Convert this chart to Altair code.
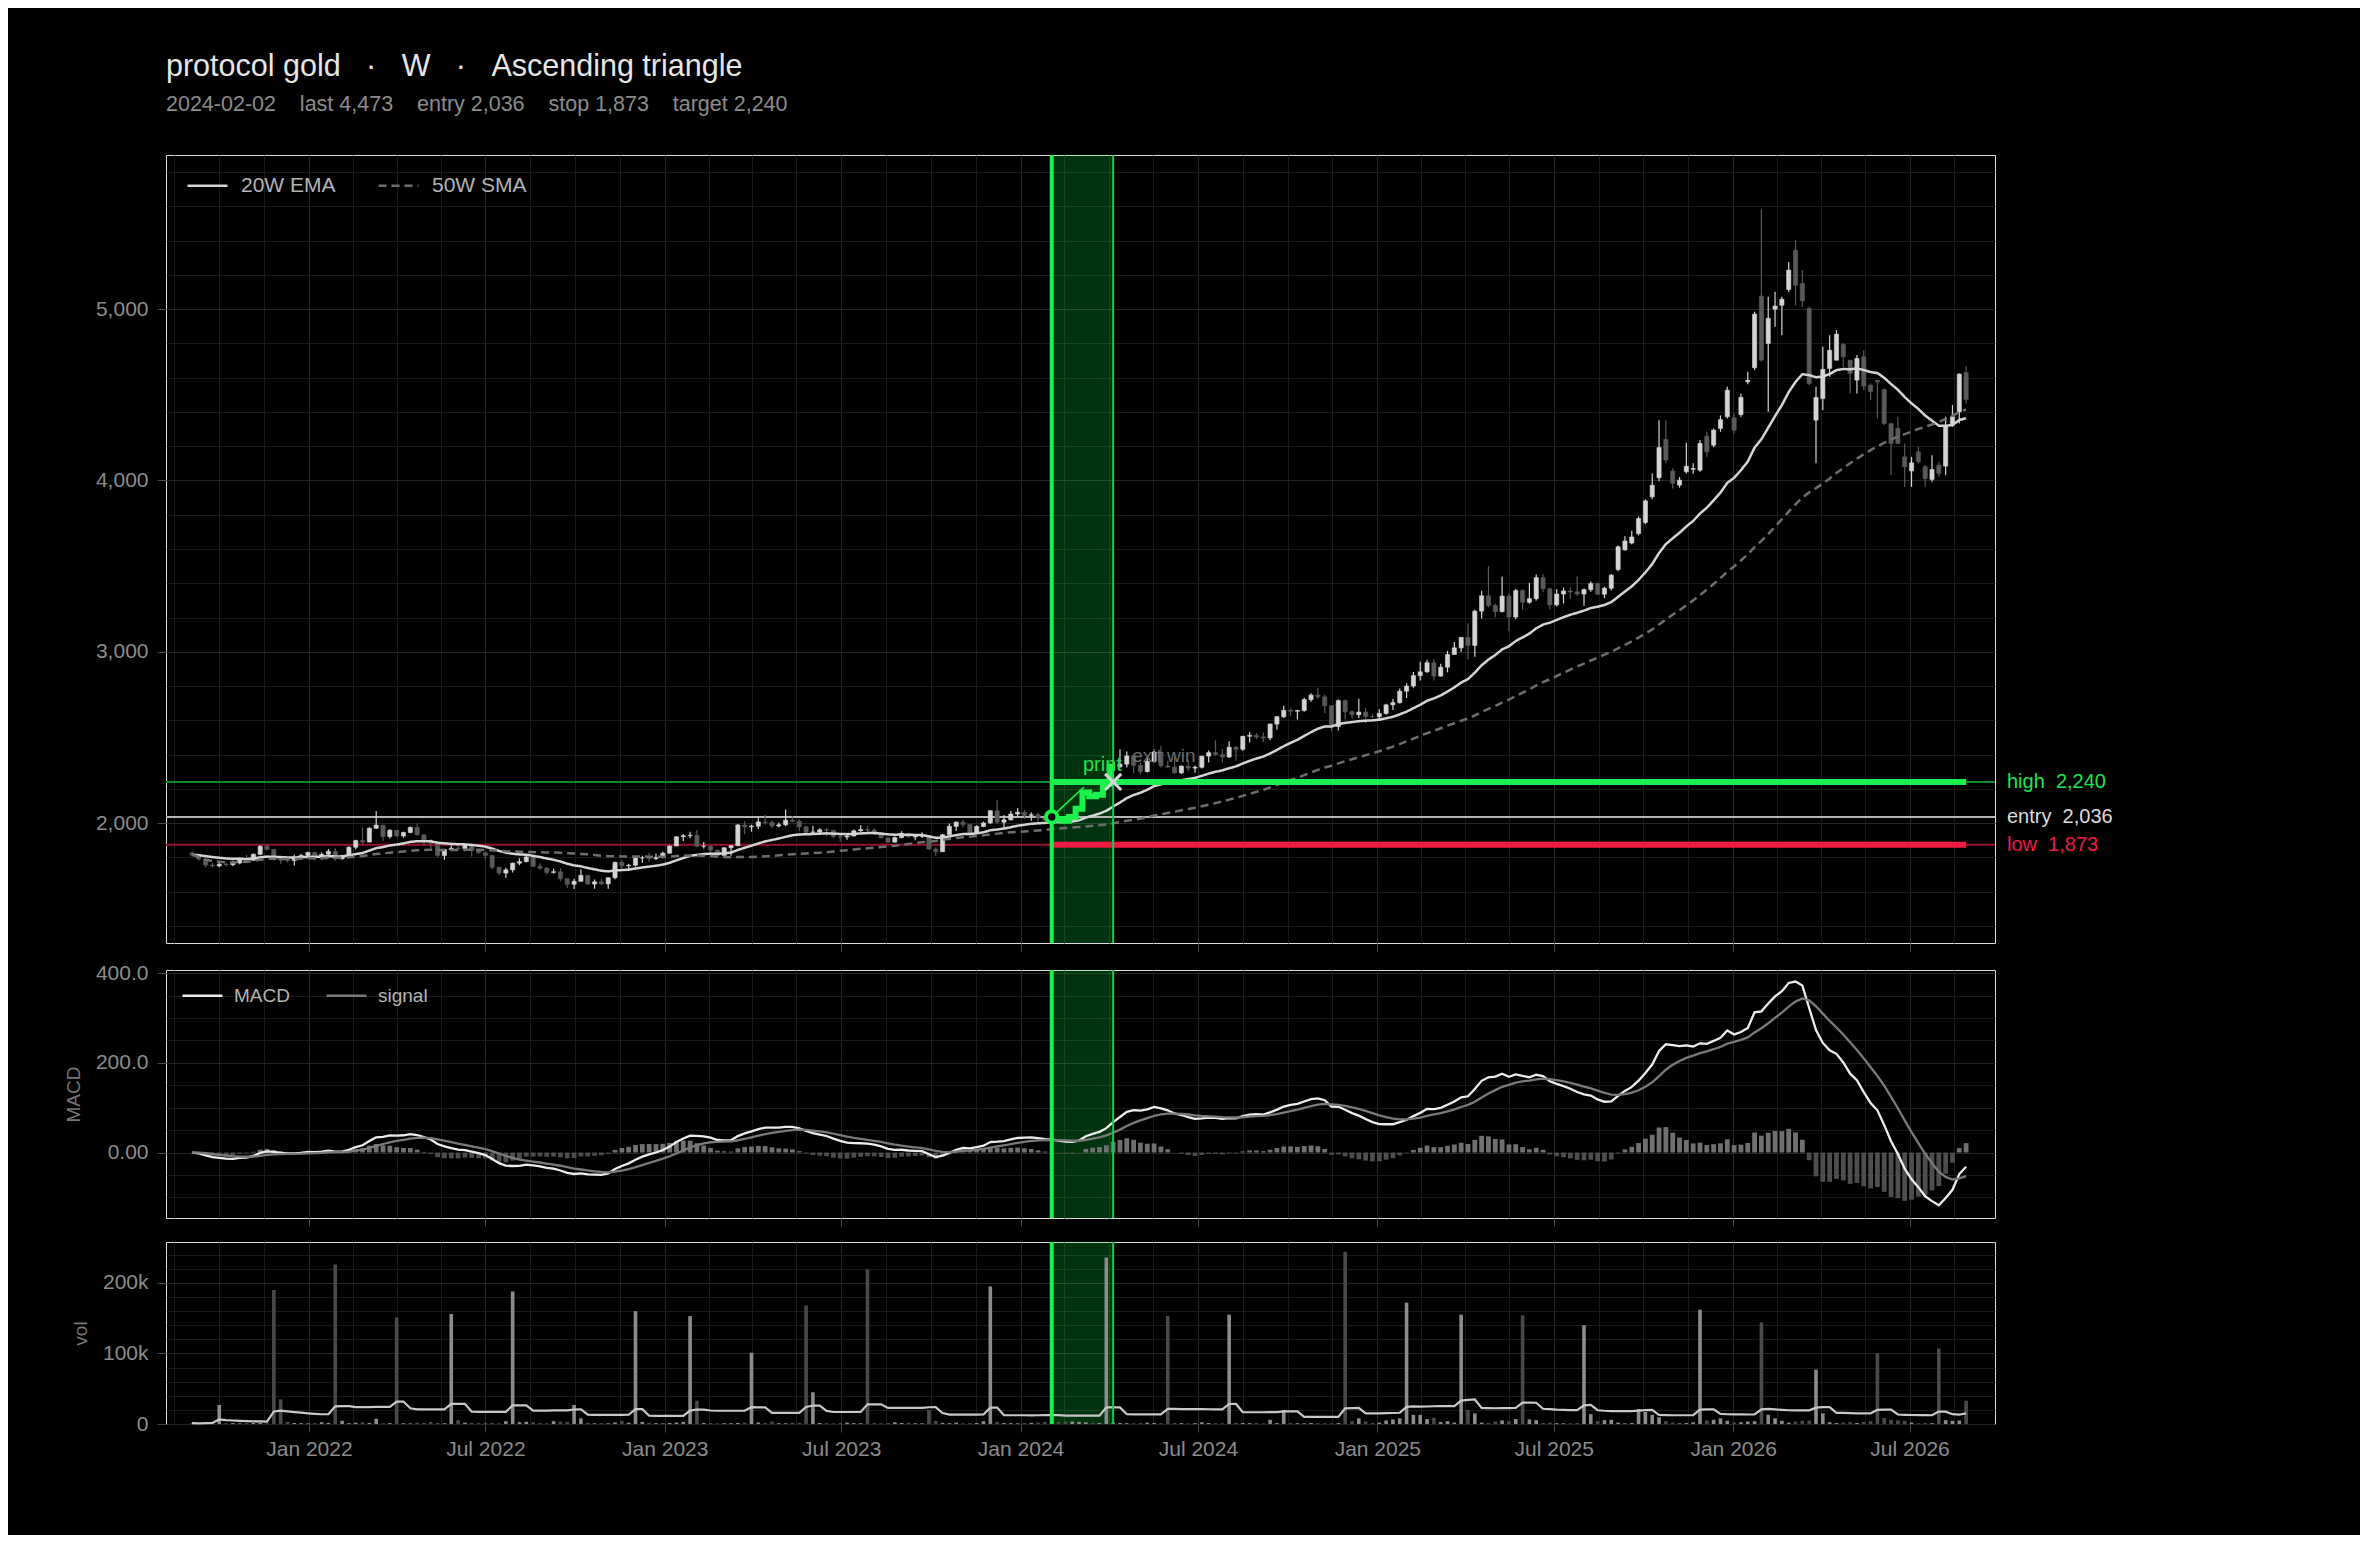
import altair as alt
import numpy as np
import pandas as pd

# ---------------- data ----------------
SYMBOL = "protocol gold"
TIMEFRAME = "W"
PATTERN = "Ascending triangle"
FIRST_WEEK = "2021-09-03"   # weekly candles, one every 7 days

opens = [
    1825, 1815, 1790, 1755, 1750, 1760, 1757, 1767, 1793, 1783,
    1818, 1865, 1846, 1792, 1783, 1782, 1798, 1811, 1829, 1797,
    1818, 1835, 1791, 1808, 1859, 1898, 1889, 1970, 1988, 1921,
    1958, 1925, 1945, 1975, 1931, 1897, 1883, 1811, 1846, 1853,
    1851, 1871, 1839, 1827, 1811, 1742, 1708, 1727, 1766, 1775,
    1802, 1747, 1737, 1712, 1716, 1675, 1643, 1660, 1695, 1644,
    1657, 1645, 1681, 1771, 1751, 1754, 1797, 1797, 1793, 1798,
    1824, 1866, 1920, 1926, 1929, 1865, 1865, 1842, 1811, 1856,
    1868, 1989, 1978, 1982, 2007, 2004, 1983, 1990, 2017, 2011,
    1978, 1946, 1948, 1961, 1958, 1921, 1919, 1925, 1955, 1962,
    1959, 1942, 1914, 1889, 1915, 1940, 1919, 1924, 1925, 1848,
    1833, 1932, 1981, 2006, 1992, 1940, 1980, 2001, 2072, 2005,
    2019, 2053, 2063, 2045, 2049, 2029, 2018, 2036, 2024, 2013,
    2036, 2083, 2179, 2156, 2165, 2230, 2329, 2344, 2392, 2337,
    2301, 2360, 2415, 2334, 2327, 2293, 2333, 2321, 2326, 2391,
    2411, 2400, 2386, 2443, 2431, 2507, 2512, 2503, 2497, 2578,
    2621, 2658, 2653, 2657, 2721, 2747, 2737, 2685, 2563, 2715,
    2650, 2633, 2648, 2622, 2621, 2640, 2690, 2703, 2770, 2800,
    2861, 2883, 2936, 2858, 2910, 2984, 3023, 3084, 3037, 3237,
    3327, 3270, 3235, 3325, 3203, 3357, 3289, 3310, 3433, 3368,
    3274, 3337, 3355, 3350, 3337, 3363, 3398, 3336, 3371, 3480,
    3595, 3635, 3690, 3755, 3905, 4016, 4240, 4055, 3973, 4051,
    4065, 4060, 4259, 4206, 4304, 4372, 4366, 4385, 4576, 4658,
    5076, 4800, 5000, 5023, 5115, 5344, 5150, 5004, 4352, 4479,
    4654, 4702, 4794, 4702, 4586, 4722, 4556, 4585, 4531, 4333,
    4304, 4138, 4056, 4167, 4080, 4006, 4090, 4084, 4323, 4401,
    4630,
]
highs = [
    1834, 1822, 1795, 1768, 1775, 1770, 1782, 1800, 1815, 1823,
    1870, 1877, 1850, 1800, 1795, 1815, 1821, 1832, 1830, 1828,
    1848, 1853, 1815, 1865, 1902, 1974, 1974, 2070, 1990, 1966,
    1960, 1950, 1980, 1998, 1935, 1905, 1886, 1850, 1870, 1874,
    1877, 1880, 1848, 1830, 1813, 1745, 1740, 1770, 1795, 1808,
    1804, 1765, 1743, 1735, 1735, 1680, 1675, 1730, 1695, 1671,
    1675, 1683, 1775, 1786, 1762, 1804, 1810, 1825, 1823, 1833,
    1870, 1922, 1937, 1949, 1959, 1890, 1870, 1848, 1859, 1870,
    1994, 2010, 1990, 2032, 2048, 2015, 2003, 2080, 2040, 2022,
    1985, 1983, 1970, 1972, 1960, 1930, 1935, 1963, 1987, 1983,
    1970, 1948, 1915, 1922, 1953, 1943, 1932, 1947, 1926, 1858,
    1937, 1997, 2009, 2019, 1993, 1988, 2008, 2075, 2135, 2047,
    2070, 2088, 2078, 2063, 2060, 2036, 2065, 2045, 2032, 2041,
    2088, 2195, 2186, 2222, 2236, 2331, 2431, 2418, 2395, 2353,
    2378, 2422, 2450, 2364, 2388, 2336, 2368, 2336, 2392, 2424,
    2483, 2432, 2477, 2450, 2509, 2531, 2525, 2529, 2582, 2625,
    2685, 2670, 2661, 2732, 2758, 2790, 2750, 2688, 2721, 2722,
    2658, 2726, 2672, 2638, 2665, 2697, 2725, 2786, 2817, 2882,
    2942, 2954, 2956, 2930, 3005, 3057, 3086, 3167, 3245, 3357,
    3500, 3280, 3438, 3340, 3366, 3365, 3403, 3451, 3452, 3372,
    3365, 3375, 3377, 3439, 3370, 3410, 3404, 3379, 3454, 3620,
    3675, 3707, 3790, 3890, 4041, 4352, 4352, 4070, 4020, 4220,
    4100, 4236, 4284, 4304, 4380, 4547, 4391, 4508, 4634, 4985,
    5582, 5072, 5101, 5072, 5276, 5403, 5228, 5014, 4547, 4780,
    4848, 4878, 4804, 4702, 4732, 4761, 4566, 4586, 4537, 4333,
    4372, 4216, 4138, 4197, 4090, 4148, 4109, 4372, 4440, 4625,
    4668,
]
lows = [
    1805, 1780, 1742, 1740, 1742, 1746, 1750, 1760, 1770, 1780,
    1812, 1840, 1780, 1762, 1770, 1753, 1790, 1802, 1782, 1788,
    1810, 1780, 1788, 1805, 1846, 1878, 1888, 1965, 1895, 1910,
    1917, 1915, 1940, 1928, 1872, 1850, 1800, 1786, 1840, 1840,
    1836, 1805, 1820, 1784, 1730, 1697, 1680, 1711, 1754, 1770,
    1745, 1727, 1700, 1705, 1660, 1621, 1615, 1660, 1640, 1617,
    1638, 1617, 1672, 1735, 1721, 1746, 1768, 1773, 1785, 1795,
    1824, 1866, 1896, 1911, 1861, 1852, 1819, 1805, 1804, 1810,
    1867, 1935, 1950, 1966, 1992, 1970, 1974, 1982, 2005, 1952,
    1938, 1932, 1940, 1924, 1911, 1893, 1902, 1922, 1950, 1942,
    1930, 1910, 1885, 1885, 1912, 1915, 1900, 1913, 1846, 1810,
    1833, 1930, 1954, 1975, 1931, 1936, 1976, 1995, 1995, 1973,
    2015, 2040, 2024, 2014, 2002, 2010, 2010, 2015, 1984, 2010,
    2025, 2080, 2146, 2146, 2155, 2229, 2320, 2325, 2291, 2286,
    2296, 2353, 2325, 2323, 2287, 2287, 2303, 2294, 2318, 2353,
    2393, 2353, 2380, 2364, 2423, 2470, 2490, 2472, 2484, 2546,
    2614, 2624, 2604, 2650, 2708, 2725, 2643, 2537, 2540, 2605,
    2614, 2613, 2583, 2613, 2596, 2633, 2660, 2698, 2730, 2790,
    2832, 2877, 2832, 2855, 2880, 2982, 3000, 2957, 2971, 3194,
    3260, 3202, 3230, 3120, 3190, 3245, 3281, 3300, 3347, 3247,
    3264, 3282, 3309, 3325, 3268, 3351, 3330, 3313, 3358, 3470,
    3590, 3628, 3680, 3745, 3890, 3995, 4100, 3953, 3958, 4041,
    4040, 4051, 4138, 4196, 4284, 4362, 4274, 4372, 4562, 4644,
    4693, 4401, 4897, 4848, 5100, 5023, 5014, 4556, 4100, 4410,
    4605, 4702, 4664, 4508, 4508, 4527, 4469, 4362, 4323, 4031,
    4216, 3963, 3963, 4099, 3963, 3992, 4022, 4031, 4313, 4333,
    4450,
]
closes = [
    1815, 1790, 1755, 1750, 1760, 1757, 1767, 1793, 1783, 1818,
    1865, 1846, 1792, 1783, 1782, 1798, 1811, 1829, 1797, 1818,
    1835, 1791, 1808, 1859, 1898, 1889, 1970, 1988, 1921, 1958,
    1925, 1945, 1975, 1931, 1897, 1883, 1811, 1846, 1853, 1851,
    1871, 1839, 1827, 1811, 1742, 1708, 1727, 1766, 1775, 1802,
    1747, 1737, 1712, 1716, 1675, 1643, 1660, 1695, 1644, 1657,
    1645, 1681, 1771, 1751, 1754, 1797, 1797, 1793, 1798, 1824,
    1866, 1920, 1926, 1929, 1865, 1865, 1842, 1811, 1856, 1868,
    1989, 1978, 1982, 2007, 2004, 1983, 1990, 2017, 2011, 1978,
    1946, 1948, 1961, 1958, 1921, 1919, 1925, 1955, 1962, 1959,
    1942, 1914, 1889, 1915, 1940, 1919, 1924, 1925, 1848, 1833,
    1932, 1981, 2006, 1992, 1940, 1980, 2001, 2072, 2005, 2019,
    2053, 2063, 2045, 2049, 2029, 2018, 2036, 2024, 2013, 2036,
    2083, 2179, 2156, 2165, 2230, 2329, 2344, 2392, 2337, 2301,
    2360, 2415, 2334, 2327, 2293, 2333, 2321, 2326, 2391, 2411,
    2400, 2386, 2443, 2431, 2507, 2512, 2503, 2497, 2578, 2621,
    2658, 2653, 2657, 2721, 2747, 2737, 2685, 2563, 2715, 2650,
    2633, 2648, 2622, 2621, 2640, 2690, 2703, 2770, 2800, 2861,
    2883, 2936, 2858, 2910, 2984, 3023, 3084, 3037, 3237, 3327,
    3270, 3235, 3325, 3203, 3357, 3289, 3310, 3433, 3368, 3274,
    3337, 3355, 3350, 3337, 3363, 3398, 3336, 3371, 3447, 3613,
    3647, 3670, 3778, 3881, 3972, 4192, 4119, 3983, 4002, 4083,
    4070, 4216, 4167, 4294, 4355, 4527, 4294, 4485, 4585, 4971,
    4703, 4946, 5018, 5058, 5228, 5140, 5049, 4566, 4485, 4648,
    4760, 4854, 4722, 4625, 4712, 4551, 4518, 4575, 4333, 4216,
    4216, 4080, 4103, 4109, 4012, 4064, 4041, 4313, 4372, 4621,
    4473,
]
volume_k = [
    1.2, 0.8, 1.5, 2.0, 27, 1.0, 1.3, 0.9, 1.1, 1.4,
    1.8, 1.2, 190, 35, 3.0, 1.5, 1.2, 0.9, 1.1, 2.5,
    1.6, 226, 4.5, 1.2, 1.8, 2.6, 1.5, 7.5, 1.0, 1.3,
    151, 1.1, 0.9, 2.0, 1.5, 2.8, 1.6, 1.2, 156, 5.5,
    2.0, 1.4, 1.2, 1.8, 1.5, 1.0, 4.0, 188, 2.6, 3.0,
    2.5, 1.2, 1.0, 4.0, 3.5, 3.0, 27, 8.0, 1.5, 1.0,
    1.3, 1.0, 2.2, 4.2, 1.8, 160, 3.0, 1.6, 1.2, 0.9,
    1.4, 2.0, 3.0, 153, 33, 1.5, 1.3, 1.0, 1.2, 1.1,
    1.4, 2.0, 101, 2.2, 1.4, 3.5, 1.2, 1.0, 1.8, 1.5,
    168, 45, 1.5, 1.2, 1.0, 1.3, 2.0, 1.2, 1.1, 219,
    1.5, 1.0, 1.2, 2.5, 1.4, 1.8, 1.1, 1.0, 20, 4.5,
    1.6, 1.2, 2.0, 1.0, 1.3, 1.5, 4.0, 195, 3.0, 1.4,
    1.2, 1.0, 1.5, 1.6, 2.0, 3.0, 2.5, 3.0, 3.5, 3.5,
    3.0, 2.5, 1.8, 1.5, 236, 1.6, 1.4, 1.2, 1.0, 1.3,
    2.0, 1.5, 1.2, 153, 1.5, 1.3, 1.0, 1.2, 2.5, 1.4,
    1.1, 1.0, 155, 1.6, 1.4, 1.2, 1.5, 1.0, 6.0, 1.3,
    20, 1.4, 1.2, 1.0, 1.5, 1.2, 1.0, 1.1, 1.3, 244,
    4.0, 8.0, 3.5, 1.5, 2.0, 5.0, 6.5, 8.0, 172, 13,
    13, 7.0, 9.0, 3.0, 4.0, 2.0, 155, 20, 15, 2.0,
    1.5, 3.5, 5.0, 4.0, 7.0, 154, 6.5, 5.5, 1.5, 2.0,
    1.2, 1.0, 1.0, 1.5, 140, 14, 4.0, 5.5, 6.0, 2.0,
    1.0, 1.5, 21, 17, 13, 9.5, 4.0, 2.0, 1.0, 1.5,
    2.5, 162, 5.0, 6.0, 8.0, 4.5, 2.0, 2.5, 3.5, 4.0,
    144, 13, 8.0, 4.5, 2.0, 3.5, 4.5, 5.0, 77, 15,
    2.5, 1.5, 2.0, 2.5, 1.5, 3.0, 4.0, 100, 8.5, 6.0,
    5.0, 4.5, 2.0, 1.0, 1.5, 1.2, 107, 5.5, 4.5, 5.0,
    33,
]

ENTRY_DATE = "2024-02-02"
EXIT_DATE = "2024-04-05"
ENTRY = 2036
STOP = 1873
TARGET = 2240

level_names = ["high", "entry", "low"]
level_values = [TARGET, ENTRY, STOP]

connector_dates = ["2024-02-02", "2024-03-06"]
connector_prices = [2036, 2210]

note_texts = ["print", "exit win"]
note_dates = ["2024-03-25", "2024-05-27"]
note_prices = [2337, 2390]

# ---------------- frames ----------------
n = len(closes)
assert all(len(a) == n for a in (opens, highs, lows, volume_k))
dates = pd.date_range(FIRST_WEEK, periods=n, freq="7D")
df = pd.DataFrame({
    "date": dates.strftime("%Y-%m-%d"),
    "open": opens, "high": highs, "low": lows, "close": closes,
    "volume": np.array(volume_k) * 1000.0,
})
c = df["close"].astype(float)
df["ema20"] = c.ewm(span=20, adjust=False).mean()
df["sma50"] = c.rolling(50, min_periods=1).mean()
macd = c.ewm(span=12, adjust=False).mean() - c.ewm(span=26, adjust=False).mean()
signal = macd.ewm(span=9, adjust=False).mean()
df["macd"] = macd
df["signal"] = signal
df["hist"] = macd - signal
df["vol_ma"] = df["volume"].rolling(20, min_periods=1).mean()
df["dir"] = np.where(df["close"] >= df["open"], "up", "down")

entry_ts, exit_ts = pd.Timestamp(ENTRY_DATE), pd.Timestamp(EXIT_DATE)
in_trade = (dates > entry_ts) & (dates <= exit_ts)
candles = df[~in_trade]
trade = df[(dates >= entry_ts) & (dates <= exit_ts)]

MA_NAMES = ["20W EMA", "50W SMA"]
ma = pd.DataFrame({
    "date": list(df["date"]) * 2,
    "value": list(df["ema20"]) + list(df["sma50"]),
    "series": [MA_NAMES[0]] * n + [MA_NAMES[1]] * n,
})
MACD_NAMES = ["MACD", "signal"]
macd_long = pd.DataFrame({
    "date": list(df["date"]) * 2,
    "value": list(df["macd"]) + list(df["signal"]),
    "series": [MACD_NAMES[0]] * n + [MACD_NAMES[1]] * n,
})

NB = "\u00a0"
levels = pd.DataFrame({"name": level_names, "value": level_values})
levels["label"] = [f"{a}{NB}{NB}{b:,}" for a, b in zip(level_names, level_values)]
levels["start"] = ENTRY_DATE
levels["end"] = df["date"].iloc[-1]

window = pd.DataFrame({"start": [ENTRY_DATE], "end": [EXIT_DATE]})
entry_pt = pd.DataFrame({"date": [ENTRY_DATE], "price": [ENTRY]})
exit_pt = pd.DataFrame({"date": [EXIT_DATE], "price": [TARGET]})
connector = pd.DataFrame({"date": connector_dates, "price": connector_prices})
notes = pd.DataFrame({"text": note_texts, "date": note_dates, "price": note_prices})

# ---------------- styles ----------------
FONT = "Liberation Sans"
GREEN = "#1cf04c"
GREEN_EXIT = "#22c84a"
GREEN_TEXT = "#1fe350"
RED = "#f01a45"
UP = "#d4d4d4"
DOWN = "#5a5a5a"
GRID_MAJOR = "#262626"
GRID_MINOR = "#1a1a1a"
LABEL = "#8c8c8c"
LEVEL_STYLE = {
    "high": {"thin": "#0f8c31", "thick": GREEN, "text": GREEN_TEXT},
    "entry": {"thin": "#b4b4b4", "thick": None, "text": "#dcdcdc"},
    "low": {"thin": "#9a1230", "thick": RED, "text": RED},
}

W = 1829
H_MAIN, H_MACD, H_VOL = 788, 248, 182

XS = alt.Scale(type="utc", domain=[
    alt.DateTime(year=2021, month=8, date=12, hours=12, utc=True),
    alt.DateTime(year=2026, month=9, date=21, hours=12, utc=True),
])
grid_dates = []
for yr in range(2021, 2027):
    for mo, dy in [(1, 1), (2, 15), (4, 1), (5, 16), (7, 1), (8, 16), (10, 1), (11, 16)]:
        d = pd.Timestamp(year=yr, month=mo, day=dy)
        if pd.Timestamp("2021-08-13") <= d <= pd.Timestamp("2026-09-20"):
            grid_dates.append(alt.DateTime(year=yr, month=mo, date=dy, utc=True))

MAJOR_X = "utcmonth(datum.value) % 6 === 0 && utcdate(datum.value) === 1"


def x_axis(show_labels):
    return alt.Axis(
        values=grid_dates, title=None, grid=True, domain=False, labels=show_labels,
        labelExpr=f"({MAJOR_X}) ? utcFormat(datum.value, '%b %Y') : ''",
        labelOverlap=False, labelFlush=False,
        gridColor={"condition": {"test": MAJOR_X, "value": GRID_MAJOR}, "value": GRID_MINOR},
        tickOpacity={"condition": {"test": MAJOR_X, "value": 1}, "value": 0},
        tickSize=8, tickColor="#4a4a4a", labelPadding=6,
        labelFontSize=21, labelColor=LABEL, labelFont=FONT,
    )


def y_axis(values, major_test, label_expr, title=None):
    kw = dict(
        values=values, grid=True, domain=False, labelExpr=label_expr, labelOverlap=False,
        gridColor={"condition": {"test": major_test, "value": GRID_MAJOR}, "value": GRID_MINOR},
        tickOpacity={"condition": {"test": major_test, "value": 1}, "value": 0},
        tickSize=9, tickColor="#4a4a4a", labelPadding=9,
        labelFontSize=21, labelColor=LABEL, labelFont=FONT,
        titleFontSize=19, titleColor="#777777", titleFont=FONT, titleFontWeight="normal",
        titlePadding=12,
    )
    kw["title"] = title
    return alt.Axis(**kw)


XA_TOP = x_axis(False)
XA_BOTTOM = x_axis(True)

YS_MAIN = alt.Scale(domain=[1300, 5900], nice=False, zero=False)
YA_MAIN = y_axis(list(range(1400, 5801, 200)), "datum.value % 1000 === 0",
                 "datum.value % 1000 === 0 ? format(datum.value, ',') : ''")
YS_MACD = alt.Scale(domain=[-146, 407], nice=False, zero=False)
YA_MACD = y_axis(list(range(-100, 401, 50)), "datum.value % 200 === 0",
                 "datum.value === 0 ? '0.00' : (datum.value % 200 === 0 ? format(datum.value, '.1f') : '')",
                 title="MACD")
YS_VOL = alt.Scale(domain=[0, 258000], nice=False)
YA_VOL = y_axis(list(range(0, 240001, 20000)), "datum.value % 100000 === 0",
                "datum.value === 0 ? '0' : (datum.value % 100000 === 0 ? format(datum.value / 1000, 'd') + 'k' : '')",
                title="vol")


def X(field, axis):
    return alt.X(f"{field}:T", scale=XS, axis=axis)


def Ym(field):
    return alt.Y(f"{field}:Q", scale=YS_MAIN, axis=YA_MAIN)


def window_layers(axis):
    shade = alt.Chart(window).mark_rect(color="#00ff44", opacity=0.2).encode(
        x=X("start", axis), x2=alt.X2("end:T"))
    l_entry = alt.Chart(window).mark_rule(color=GREEN, strokeWidth=4).encode(x=X("start", axis))
    l_exit = alt.Chart(window).mark_rule(color=GREEN_EXIT, strokeWidth=2).encode(x=X("end", axis))
    return shade, [l_entry, l_exit]


# ---------------- main panel ----------------
shade_m, vlines_m = window_layers(XA_TOP)
main_layers = [shade_m]

for name in level_names:
    st = LEVEL_STYLE[name]
    main_layers.append(
        alt.Chart(levels).transform_filter(f"datum.name === '{name}'")
        .mark_rule(color=st["thin"], strokeWidth=2).encode(y=Ym("value")))

for test, col in [("datum.close >= datum.open", UP), ("datum.close < datum.open", DOWN)]:
    sub = alt.Chart(candles).transform_filter(test)
    main_layers.append(sub.mark_rule(color=col, strokeWidth=1.2).encode(
        x=X("date", XA_TOP), y=Ym("low"), y2=alt.Y2("high:Q")))
    main_layers.append(sub.mark_bar(width=4.2, color=col, stroke=col, strokeWidth=0.6).encode(
        x=X("date", XA_TOP), y=Ym("open"), y2=alt.Y2("close:Q")))

MA_LEGEND = alt.Legend(
    title=None, orient="none", legendX=20, legendY=9, direction="horizontal", padding=0,
    symbolType="stroke", symbolSize=1600, symbolStrokeWidth=2.5,
    labelFontSize=21, labelColor="#b4b4b4", labelFont=FONT, labelOffset=12, columnPadding=37,
)
main_layers.append(
    alt.Chart(ma).mark_line(strokeWidth=2.5).encode(
        x=X("date", XA_TOP), y=Ym("value"),
        color=alt.Color("series:N", scale=alt.Scale(domain=MA_NAMES, range=["#d4d4d4", "#6e6e6e"]),
                        legend=MA_LEGEND),
        strokeDash=alt.StrokeDash("series:N", scale=alt.Scale(domain=MA_NAMES, range=[[1, 0], [8, 5]]),
                                  legend=MA_LEGEND),
    ))

for name in level_names:
    st = LEVEL_STYLE[name]
    if st["thick"]:
        main_layers.append(
            alt.Chart(levels).transform_filter(f"datum.name === '{name}'")
            .mark_rule(color=st["thick"], strokeWidth=6).encode(
                x=X("start", XA_TOP), x2=alt.X2("end:T"), y=Ym("value")))

main_layers += vlines_m

main_layers.append(alt.Chart(trade).mark_line(interpolate="step", color=GREEN, strokeWidth=6).encode(
    x=X("date", XA_TOP), y=Ym("close")))
main_layers.append(alt.Chart(connector).mark_line(color=GREEN, strokeWidth=1.5).encode(
    x=X("date", XA_TOP), y=Ym("price")))
main_layers.append(alt.Chart(entry_pt).mark_point(
    shape="circle", filled=True, fill="#000000", stroke=GREEN, strokeWidth=4, size=130, opacity=1).encode(
    x=X("date", XA_TOP), y=Ym("price")))
main_layers.append(alt.Chart(exit_pt).mark_point(
    shape="M-1,-1L1,1M-1,1L1,-1", filled=False, color="#d6d6d6", strokeWidth=3, size=260, opacity=1).encode(
    x=X("date", XA_TOP), y=Ym("price")))
main_layers.append(alt.Chart(notes).transform_filter("datum.text === 'print'").mark_text(
    color=GREEN_TEXT, fontSize=20, font=FONT, align="center", baseline="middle").encode(
    x=X("date", XA_TOP), y=Ym("price"), text="text:N"))
main_layers.append(alt.Chart(notes).transform_filter("datum.text === 'exit win'").mark_text(
    color="#6c6c6c", fontSize=19, font=FONT, align="center", baseline="middle").encode(
    x=X("date", XA_TOP), y=Ym("price"), text="text:N"))

for name in level_names:
    st = LEVEL_STYLE[name]
    main_layers.append(
        alt.Chart(levels).transform_filter(f"datum.name === '{name}'")
        .mark_text(color=st["text"], fontSize=20, font=FONT, align="left", baseline="middle")
        .encode(x=alt.value(W + 12), y=Ym("value"), text="label:N"))

main = alt.layer(*main_layers).properties(width=W, height=H_MAIN)

# ---------------- MACD panel ----------------
shade_d, vlines_d = window_layers(XA_TOP)


def Yd(field):
    return alt.Y(f"{field}:Q", scale=YS_MACD, axis=YA_MACD)


MACD_LEGEND = alt.Legend(
    title=None, orient="none", legendX=15, legendY=4, direction="horizontal", padding=0,
    symbolType="stroke", symbolSize=1600, symbolStrokeWidth=2.5,
    labelFontSize=19, labelColor="#b4b4b4", labelFont=FONT, labelOffset=10, columnPadding=31,
)
macd_layers = [shade_d]
for test, col in [("datum.hist >= 0", "#707070"), ("datum.hist < 0", "#4e4e4e")]:
    macd_layers.append(alt.Chart(df).transform_filter(test).mark_bar(width=4.8, color=col).encode(
        x=X("date", XA_TOP), y=Yd("hist"), y2=alt.datum(0)))
macd_layers.append(alt.Chart(macd_long).mark_line(strokeWidth=2.3).encode(
    x=X("date", XA_TOP), y=Yd("value"),
    color=alt.Color("series:N", scale=alt.Scale(domain=MACD_NAMES, range=["#ececec", "#7a7a7a"]),
                    sort=MACD_NAMES, legend=MACD_LEGEND),
    order=alt.Order("series:N", sort="descending"),
))
macd_layers += vlines_d
macd_panel = alt.layer(*macd_layers).properties(width=W, height=H_MACD)

# ---------------- volume panel ----------------
shade_v, vlines_v = window_layers(XA_BOTTOM)


def Yv(field):
    return alt.Y(f"{field}:Q", scale=YS_VOL, axis=YA_VOL)


vol_layers = [shade_v]
for d, col in [("up", "#8c8c8c"), ("down", "#4a4a4a")]:
    vol_layers.append(alt.Chart(df).transform_filter(f"datum.dir === '{d}'").mark_bar(width=3.6, color=col).encode(
        x=X("date", XA_BOTTOM), y=Yv("volume")))
vol_layers.append(alt.Chart(df).mark_line(color="#c8c8c8", strokeWidth=2.2).encode(
    x=X("date", XA_BOTTOM), y=Yv("vol_ma")))
vol_layers += vlines_v
vol_panel = alt.layer(*vol_layers).properties(width=W, height=H_VOL)

# ---------------- assemble ----------------
title_text = f"{SYMBOL}{NB*3}·{NB*3}{TIMEFRAME}{NB*3}·{NB*3}{PATTERN}"
sub_text = (NB * 4).join([
    ENTRY_DATE, f"last {closes[-1]:,}", f"entry {ENTRY:,}", f"stop {STOP:,}", f"target {TARGET:,}"])

lower = alt.vconcat(macd_panel, vol_panel, spacing=24, bounds="flush").resolve_scale(color="independent")
chart = alt.vconcat(main, lower, spacing=27, bounds="flush").resolve_scale(
    color="independent", strokeDash="independent"
).properties(
    title=alt.TitleParams(
        text=title_text, subtitle=sub_text, anchor="start", frame="group",
        font=FONT, fontSize=30.5, fontWeight="normal", color="#e6e6e6",
        subtitleFont=FONT, subtitleFontSize=21.5, subtitleColor="#8c8c8c", subtitlePadding=12,
        offset=37,
    ),
    background="#000000",
    padding={"left": 55, "top": 43, "right": 246, "bottom": 75},
).configure_view(stroke="#303030", strokeWidth=1.5).configure(font=FONT)

chart.save("out.html", embed_options={"renderer": "svg", "actions": False})
